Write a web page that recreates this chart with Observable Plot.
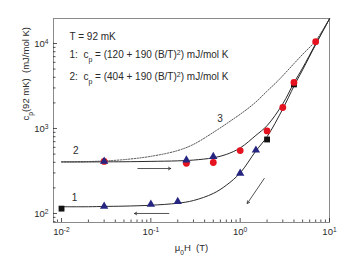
<!DOCTYPE html>
<html>
<head>
<meta charset="utf-8">
<script src="https://cdn.jsdelivr.net/npm/d3@7"></script>
<script src="https://cdn.jsdelivr.net/npm/@observablehq/plot@0.6"></script>
<style>
  html, body { margin: 0; padding: 0; background: #fff; }
  svg text { white-space: pre; }
</style>
</head>
<body>
<div id="chart"></div>
<script>
// ---- data ----
const xTickValues = [0.01, 0.1, 1, 10];
const xTickLabels = ["10^{-2}", "10^{-1}", "10^{0}", "10^{1}"];
const yTickValues = [100, 1000, 10000];
const yTickLabels = ["10^{2}", "10^{3}", "10^{4}"];

// fitted curve 1 (lower solid)
const curve1B = [0.01, 0.02, 0.03, 0.05, 0.1, 0.2, 0.3, 0.5, 0.7, 1, 1.5, 2, 3, 4, 5, 7, 10];
const curve1C = [120, 120, 121, 122, 125, 132, 142, 172, 215, 300, 545, 800, 1700, 3150, 4900, 9700, 19500];
// fitted curve 2 (upper solid)
const curve2B = [0.01, 0.02, 0.03, 0.05, 0.1, 0.2, 0.3, 0.5, 0.7, 1, 1.5, 2, 3, 4, 5, 7, 10];
const curve2C = [404, 404, 405, 406, 410, 416, 425, 452, 495, 590, 830, 1080, 1950, 3450, 5150, 9900, 19500];
// curve 3 (dotted)
const curve3B = [0.01, 0.02, 0.03, 0.05, 0.1, 0.2, 0.3, 0.54, 0.8, 1.14, 1.5, 2, 2.67, 4, 5, 7, 10];
const curve3C = [404, 408, 415, 430, 470, 550, 650, 947, 1250, 1625, 2050, 2750, 3675, 5800, 7450, 10800, 19500];

// measured points
const triB = [0.03, 0.1, 0.2, 1, 1.5, 0.03, 0.25, 0.5];
const triC = [121, 128, 138, 296, 555, 410, 425, 468];
const circB = [0.03, 0.25, 0.5, 1, 2, 3, 4, 7];
const circC = [410, 390, 398, 550, 935, 1766, 3480, 10500];
const sqB = [0.01, 2, 4];
const sqC = [114, 742, 3300];

// arrows (tail -> head)
const arrowB1 = [0.0715, 0.159, 1.86];
const arrowC1 = [338, 100, 258];
const arrowB2 = [0.167, 0.0655, 1.2];
const arrowC2 = [338, 100, 131];

// curve labels
const curveLabels = ["1", "2", "3"];
const curveLabelB = [0.0140, 0.0144, 0.596];
const curveLabelC = [154, 550, 1310];

const notes = ["T = 92 mK", "1:  c_{p} = (120 + 190 (B/T)^{2}) mJ/mol K", "2:  c_{p} = (404 + 190 (B/T)^{2}) mJ/mol K"];
const xTitle = "\u03bc_{0}H  (T)";
const yTitle = "c_{p}(92 mK)  (mJ/mol K)";

// ---- build tables ----
const zip = (bs, cs) => bs.map((b, i) => ({b, c: cs[i]}));
const c1 = zip(curve1B, curve1C), c2 = zip(curve2B, curve2C), c3 = zip(curve3B, curve3C);
const tri = zip(triB, triC), circ = zip(circB, circC), sq = zip(sqB, sqC);
const arrows = arrowB1.map((b, i) => ({b1: b, c1: arrowC1[i], b2: arrowB2[i], c2: arrowC2[i]}));
const labs = curveLabels.map((t, i) => ({t, b: curveLabelB[i], c: curveLabelC[i]}));

const minor = (decades) => decades.flatMap(d => [2,3,4,5,6,7,8,9].map(k => k * d));
const xMinor = minor([0.001, 0.01, 0.1, 1]).filter(v => v > 0.0082 && v < 10);
const yMinor = minor([10, 100, 1000, 10000]).filter(v => v > 79 && v < 19600);

const W = 354, H = 261, mL = 53, mR = 25, mT = 18, mB = 39;
const innerW = W - mL - mR, innerH = H - mT - mB;
const ink = "#2a2a2a";

const chart = Plot.plot({
  width: W, height: H,
  marginLeft: mL, marginRight: mR, marginTop: mT, marginBottom: mB,
  style: {fontFamily: "'Liberation Sans', Arial, sans-serif", fontSize: "9.5px", color: ink, background: "#fff"},
  x: {type: "log", domain: [0.00813, 10]},
  y: {type: "log", domain: [78.3, 19680]},
  marks: [
    Plot.frame({stroke: "#8a8a8a", strokeWidth: 1}),
    // inward ticks
    Plot.tickX(xTickValues, {x: d => d, stroke: ink, strokeWidth: 0.8, insetTop: innerH - 4}),
    Plot.tickX(xMinor, {x: d => d, stroke: ink, strokeWidth: 0.8, insetTop: innerH - 2.5}),
    Plot.tickY(yTickValues, {y: d => d, stroke: ink, strokeWidth: 0.8, insetRight: innerW - 4}),
    Plot.tickY(yMinor, {y: d => d, stroke: ink, strokeWidth: 0.8, insetRight: innerW - 2.5}),
    Plot.axisX({ticks: xTickValues, tickSize: 0, tickPadding: 6, tickFormat: v => xTickLabels[xTickValues.indexOf(v)], label: null, fontSize: 9.5}),
    Plot.axisY({ticks: yTickValues, tickSize: 0, tickPadding: 5, tickFormat: v => yTickLabels[yTickValues.indexOf(v)], label: null, fontSize: 9.5}),
    // curves
    Plot.line(c3, {x: "b", y: "c", curve: "catmull-rom", stroke: ink, strokeWidth: 0.8, strokeDasharray: "1.4,1.4"}),
    Plot.line(c1, {x: "b", y: "c", curve: "catmull-rom", stroke: ink, strokeWidth: 1}),
    Plot.line(c2, {x: "b", y: "c", curve: "catmull-rom", stroke: ink, strokeWidth: 1}),
    // arrows
    Plot.arrow(arrows, {x1: "b1", y1: "c1", x2: "b2", y2: "c2", stroke: ink, strokeWidth: 0.8, headLength: 5}),
    // points
    Plot.dot(sq, {x: "b", y: "c", symbol: "square", r: 3.3, fill: "#111", stroke: "none"}),
    Plot.dot(circ, {x: "b", y: "c", r: 3.4, fill: "#e5121f", stroke: "none"}),
    Plot.dot(tri, {x: "b", y: "c", symbol: "triangle", r: 3.1, fill: "#262680", stroke: "none"}),
    // curve labels
    Plot.text(labs, {x: "b", y: "c", text: "t", fontSize: 10, fill: ink}),
    // notes
    Plot.text([notes[0]], {frameAnchor: "top-left", dx: 16, dy: 18, textAnchor: "start", lineAnchor: "middle", fontSize: 10, fill: ink}),
    Plot.text([notes[1]], {frameAnchor: "top-left", dx: 16, dy: 36, textAnchor: "start", lineAnchor: "middle", fontSize: 10, fill: ink}),
    Plot.text([notes[2]], {frameAnchor: "top-left", dx: 16, dy: 58, textAnchor: "start", lineAnchor: "middle", fontSize: 10, fill: ink}),
    // axis titles
    Plot.text([xTitle], {frameAnchor: "bottom", dy: 25, lineAnchor: "middle", fontSize: 9.5, fill: ink}),
    Plot.text([yTitle], {frameAnchor: "left", dx: -28, rotate: -90, lineAnchor: "middle", fontSize: 9.5, fill: ink})
  ]
});

// turn ^{..} / _{..} into real super/subscript tspans
function richify(root) {
  const ns = "http://www.w3.org/2000/svg";
  const add = (t, str, shift) => {
    const ts = document.createElementNS(ns, "tspan");
    ts.textContent = str;
    if (shift) { ts.setAttribute("baseline-shift", shift); ts.setAttribute("font-size", "70%"); }
    t.appendChild(ts);
  };
  root.querySelectorAll("text").forEach(t => {
    if (t.querySelector("tspan")) return;
    const s = t.textContent;
    if (!/[_^]\{/.test(s)) return;
    t.textContent = "";
    const re = /([_^])\{([^}]*)\}/g;
    let last = 0, m;
    while ((m = re.exec(s))) {
      if (m.index > last) add(t, s.slice(last, m.index));
      add(t, m[2], m[1] === "^" ? "super" : "sub");
      last = re.lastIndex;
    }
    if (last < s.length) add(t, s.slice(last));
  });
}
richify(chart);
document.getElementById("chart").appendChild(chart);
</script>
</body>
</html>
